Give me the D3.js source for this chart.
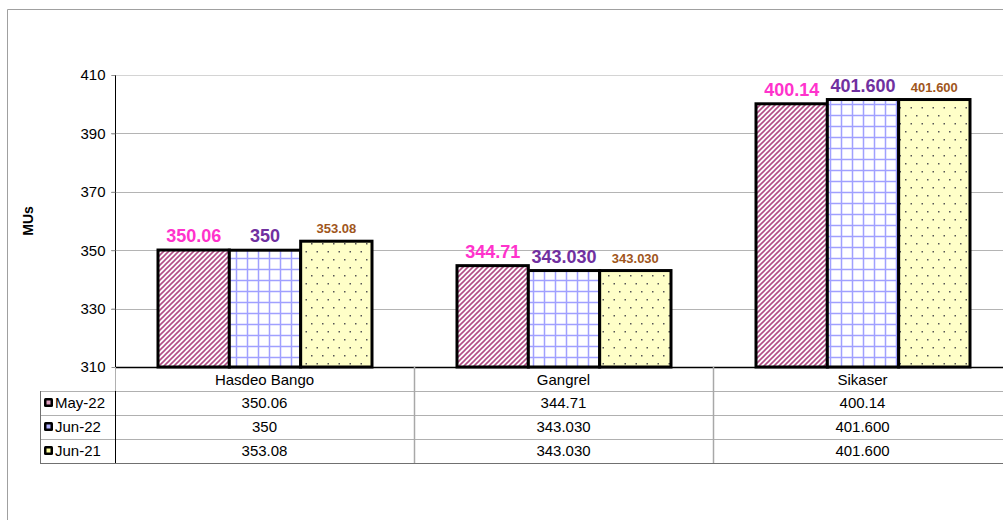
<!DOCTYPE html>
<html lang="en">
<head>
    <meta charset="UTF-8">
    <title>MUs chart</title>
    <script src="https://cdn.jsdelivr.net/npm/d3@7"></script>
    <style>
        body { margin: 0; background: #fff; }
        text { font-family: Arial, "Liberation Sans", sans-serif; }
    </style>
</head>
<body>
<script>
    // data
    const categories = ["Hasdeo Bango", "Gangrel", "Sikaser"];
    const seriesNames = ["May-22", "Jun-22", "Jun-21"];
    const may22 = [350.06, 344.71, 400.14];
    const jun22 = [350, 343.03, 401.6];
    const jun21 = [353.08, 343.03, 401.6];
    const may22Labels = ["350.06", "344.71", "400.14"];
    const jun22Labels = ["350", "343.030", "401.600"];
    const jun21Labels = ["353.08", "343.030", "401.600"];
    const yTicks = [310, 330, 350, 370, 390, 410];

    const seriesValues = [may22, jun22, jun21];
    const seriesLabels = [may22Labels, jun22Labels, jun21Labels];
    const labelColors = ["#ff33cc", "#7030a0", "#a0561c"];
    const labelSizes = [18, 18, 13];
    const fills = ["url(#pStripe)", "url(#pGrid)", "url(#pDots)"];
    const keyFills = ["#e0a0c0", "#b0b0ff", "#ffffa0"];

    const width = 1003, height = 520;
    const svg = d3.select("body").append("svg").attr("width", width).attr("height", height);

    // patterns
    const defs = svg.append("defs");
    const ps = defs.append("pattern").attr("id", "pStripe").attr("patternUnits", "userSpaceOnUse")
        .attr("width", 5).attr("height", 5);
    ps.append("rect").attr("width", 5).attr("height", 5).attr("fill", "#fff");
    ps.append("path").attr("d", "M-1,1 L1,-1 M0,5 L5,0 M4,6 L6,4")
        .attr("stroke", "#b24d86").attr("stroke-width", 1.6);

    const pg = defs.append("pattern").attr("id", "pGrid").attr("patternUnits", "userSpaceOnUse")
        .attr("width", 11).attr("height", 11);
    pg.append("rect").attr("width", 11).attr("height", 11).attr("fill", "#fff");
    pg.append("path").attr("d", "M5.5,0 V11 M0,5.5 H11").attr("stroke", "#a0a0ff").attr("stroke-width", 1.5);

    const pd = defs.append("pattern").attr("id", "pDots").attr("patternUnits", "userSpaceOnUse")
        .attr("width", 11).attr("height", 16);
    pd.append("rect").attr("width", 11).attr("height", 16).attr("fill", "#ffffc8");
    pd.append("rect").attr("x", 3).attr("y", 3).attr("width", 1.5).attr("height", 1.5).attr("fill", "#555");
    pd.append("rect").attr("x", 8.5).attr("y", 11).attr("width", 1.5).attr("height", 1.5).attr("fill", "#555");

    // outer frame
    svg.append("path").attr("d", "M7.5,520 V9.5 H1003").attr("fill", "none").attr("stroke", "#a0a0a0");

    const x0 = 115, x1 = 1012, yTop = 75, yBot = 367;
    const x = d3.scaleBand().domain(categories).range([x0, x1]);
    const xs = d3.scaleBand().domain(d3.range(3)).range([43, 257]);
    const y = d3.scaleLinear().domain([310, 410]).range([yBot, yTop]);

    // grid
    svg.append("g").selectAll("line").data(yTicks.slice(1)).join("line")
        .attr("x1", x0 - 4).attr("x2", width).attr("y1", d => Math.round(y(d)) + 0.5).attr("y2", d => Math.round(y(d)) + 0.5)
        .attr("stroke", d => d === 410 ? "#d4d4d4" : "#b4b4b4");

    // y axis
    const yAxis = d3.axisLeft(y).tickValues(yTicks).tickSize(4).tickFormat(d3.format("d"));
    const ya = svg.append("g").attr("transform", `translate(${x0 + 0.5},0)`).call(yAxis);
    ya.select(".domain").attr("stroke", "#000").attr("d", `M0,${yTop} V${yBot}`);
    ya.selectAll(".tick line").attr("stroke", "#909090");
    ya.selectAll(".tick text").attr("font-size", 15).attr("fill", "#000").attr("x", -10)
        .attr("font-family", "Arial, Liberation Sans, sans-serif");

    svg.append("text").attr("transform", `translate(33,${(yTop + yBot) / 2}) rotate(-90)`)
        .attr("text-anchor", "middle").attr("font-size", 14).attr("font-weight", "bold").text("MUs");

    // bars
    const bars = svg.append("g");
    seriesValues.forEach((vals, s) => {
        bars.selectAll(".b" + s).data(vals).join("rect")
            .attr("class", "b" + s)
            .attr("x", (d, i) => x(categories[i]) + xs(s))
            .attr("y", d => y(d))
            .attr("width", xs.bandwidth())
            .attr("height", d => yBot - y(d))
            .attr("fill", fills[s])
            .attr("stroke", "#000").attr("stroke-width", 3);
        bars.selectAll(".l" + s).data(vals).join("text")
            .attr("class", "l" + s)
            .attr("x", (d, i) => x(categories[i]) + xs(s) + xs.bandwidth() / 2)
            .attr("y", d => y(d) - 8)
            .attr("text-anchor", "middle")
            .attr("font-size", labelSizes[s]).attr("font-weight", "bold")
            .attr("fill", labelColors[s])
            .text((d, i) => seriesLabels[s][i]);
    });

    // x axis baseline
    svg.append("line").attr("x1", x0).attr("x2", width).attr("y1", yBot + 0.5).attr("y2", yBot + 0.5)
        .attr("stroke", "#000").attr("stroke-width", 1.3);

    // data table
    const rowH = 24, tLeft = 40;
    const table = svg.append("g");
    table.selectAll(".cat").data(categories).join("text")
        .attr("x", d => x(d) + x.bandwidth() / 2).attr("y", yBot + 18)
        .attr("text-anchor", "middle").attr("font-size", 15).text(d => d);
    // horizontal rows
    [1, 2, 3].forEach(r => {
        table.append("line").attr("x1", tLeft).attr("x2", width)
            .attr("y1", yBot + r * rowH + 0.5).attr("y2", yBot + r * rowH + 0.5).attr("stroke", "#b0b0b0");
    });
    table.append("line").attr("x1", tLeft).attr("x2", width)
        .attr("y1", yBot + 4 * rowH + 0.5).attr("y2", yBot + 4 * rowH + 0.5).attr("stroke", "#707070");
    // verticals
    table.append("line").attr("x1", tLeft + 0.5).attr("x2", tLeft + 0.5)
        .attr("y1", yBot + rowH).attr("y2", yBot + 4 * rowH).attr("stroke", "#707070");
    table.append("line").attr("x1", x0 + 0.5).attr("x2", x0 + 0.5)
        .attr("y1", yBot).attr("y2", yBot + rowH).attr("stroke", "#b0b0b0");
    table.append("line").attr("x1", x0 + 0.5).attr("x2", x0 + 0.5)
        .attr("y1", yBot + rowH).attr("y2", yBot + 4 * rowH).attr("stroke", "#000");
    categories.slice(1).forEach(c => {
        table.append("line").attr("x1", Math.round(x(c)) + 0.5).attr("x2", Math.round(x(c)) + 0.5)
            .attr("y1", yBot).attr("y2", yBot + 4 * rowH).attr("stroke", "#a8a8a8").attr("stroke-width", 1.5);
    });
    seriesNames.forEach((name, s) => {
        const ry = yBot + (s + 1) * rowH;
        table.append("rect").attr("x", 44).attr("y", ry + 7).attr("width", 9).attr("height", 9)
            .attr("rx", 1.5).attr("fill", "#000");
        table.append("rect").attr("x", 46.5).attr("y", ry + 9.5).attr("width", 4).attr("height", 4)
            .attr("fill", keyFills[s]);
        table.append("text").attr("x", 55).attr("y", ry + 17).attr("font-size", 15).text(name);
        table.selectAll(".v" + s).data(seriesLabels[s]).join("text")
            .attr("x", (d, i) => x(categories[i]) + x.bandwidth() / 2).attr("y", ry + 17)
            .attr("text-anchor", "middle").attr("font-size", 15).text(d => d);
    });
</script>
</body>
</html>
